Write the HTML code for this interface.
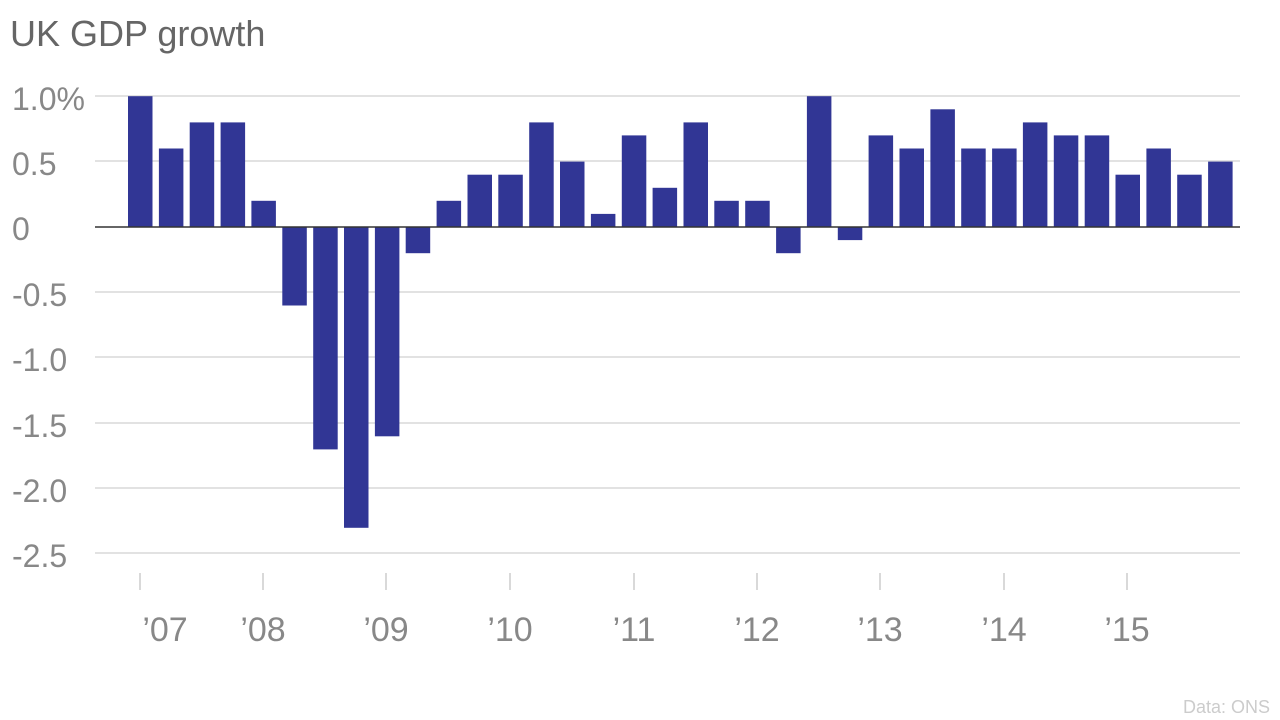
<!DOCTYPE html>
<html><head><meta charset="utf-8"><style>
body{margin:0;background:#fff;}
svg{display:block;font-family:"Liberation Sans",sans-serif;}
</style></head><body>
<svg width="1280" height="720" xmlns="http://www.w3.org/2000/svg">
<text x="10" y="46" font-size="36" fill="#666">UK GDP growth</text>
<g stroke="#d8d8d8" stroke-width="1.5">
<line x1="95" x2="1240" y1="96" y2="96"/>
<line x1="95" x2="1240" y1="161" y2="161"/>
<line x1="95" x2="1240" y1="292" y2="292"/>
<line x1="95" x2="1240" y1="357" y2="357"/>
<line x1="95" x2="1240" y1="423" y2="423"/>
<line x1="95" x2="1240" y1="488" y2="488"/>
<line x1="95" x2="1240" y1="553" y2="553"/>
</g>
<g font-size="32" fill="#888">
<text x="12" y="110">1.0%</text>
<text x="12" y="175">0.5</text>
<text x="12" y="240">0</text>
<text x="12" y="306">-0.5</text>
<text x="12" y="371">-1.0</text>
<text x="12" y="437">-1.5</text>
<text x="12" y="502">-2.0</text>
<text x="12" y="567">-2.5</text>
</g>
<g fill="#313695">
<rect x="128.0" y="96.2" width="24.5" height="130.8"/>
<rect x="158.9" y="148.5" width="24.5" height="78.5"/>
<rect x="189.7" y="122.4" width="24.5" height="104.6"/>
<rect x="220.6" y="122.4" width="24.5" height="104.6"/>
<rect x="251.4" y="200.8" width="24.5" height="26.2"/>
<rect x="282.3" y="227" width="24.5" height="78.5"/>
<rect x="313.2" y="227" width="24.5" height="222.4"/>
<rect x="344.0" y="227" width="24.5" height="300.8"/>
<rect x="374.9" y="227" width="24.5" height="209.3"/>
<rect x="405.7" y="227" width="24.5" height="26.2"/>
<rect x="436.6" y="200.8" width="24.5" height="26.2"/>
<rect x="467.5" y="174.7" width="24.5" height="52.3"/>
<rect x="498.3" y="174.7" width="24.5" height="52.3"/>
<rect x="529.2" y="122.4" width="24.5" height="104.6"/>
<rect x="560.0" y="161.6" width="24.5" height="65.4"/>
<rect x="590.9" y="213.9" width="24.5" height="13.1"/>
<rect x="621.8" y="135.4" width="24.5" height="91.6"/>
<rect x="652.6" y="187.8" width="24.5" height="39.2"/>
<rect x="683.5" y="122.4" width="24.5" height="104.6"/>
<rect x="714.3" y="200.8" width="24.5" height="26.2"/>
<rect x="745.2" y="200.8" width="24.5" height="26.2"/>
<rect x="776.1" y="227" width="24.5" height="26.2"/>
<rect x="806.9" y="96.2" width="24.5" height="130.8"/>
<rect x="837.8" y="227" width="24.5" height="13.1"/>
<rect x="868.6" y="135.4" width="24.5" height="91.6"/>
<rect x="899.5" y="148.5" width="24.5" height="78.5"/>
<rect x="930.4" y="109.3" width="24.5" height="117.7"/>
<rect x="961.2" y="148.5" width="24.5" height="78.5"/>
<rect x="992.1" y="148.5" width="24.5" height="78.5"/>
<rect x="1022.9" y="122.4" width="24.5" height="104.6"/>
<rect x="1053.8" y="135.4" width="24.5" height="91.6"/>
<rect x="1084.7" y="135.4" width="24.5" height="91.6"/>
<rect x="1115.5" y="174.7" width="24.5" height="52.3"/>
<rect x="1146.4" y="148.5" width="24.5" height="78.5"/>
<rect x="1177.2" y="174.7" width="24.5" height="52.3"/>
<rect x="1208.1" y="161.6" width="24.5" height="65.4"/>
</g>
<line x1="95" x2="1240" y1="227" y2="227" stroke="#333" stroke-width="1.5"/>
<g stroke="#ccc" stroke-width="1.5">
<line x1="140" x2="140" y1="573" y2="590"/><line x1="263" x2="263" y1="573" y2="590"/>
<line x1="386" x2="386" y1="573" y2="590"/><line x1="510" x2="510" y1="573" y2="590"/>
<line x1="634" x2="634" y1="573" y2="590"/><line x1="757" x2="757" y1="573" y2="590"/>
<line x1="880" x2="880" y1="573" y2="590"/><line x1="1004" x2="1004" y1="573" y2="590"/>
<line x1="1127" x2="1127" y1="573" y2="590"/>
</g>
<g font-size="34" fill="#888" text-anchor="middle">
<text x="165" y="641">’07</text><text x="263" y="641">’08</text><text x="386" y="641">’09</text>
<text x="510" y="641">’10</text><text x="634" y="641">’11</text><text x="757" y="641">’12</text>
<text x="880" y="641">’13</text><text x="1004" y="641">’14</text><text x="1127" y="641">’15</text>
</g>
<text x="1270" y="713" font-size="18" fill="#ccc" text-anchor="end">Data: ONS</text>
</svg>
</body></html>
